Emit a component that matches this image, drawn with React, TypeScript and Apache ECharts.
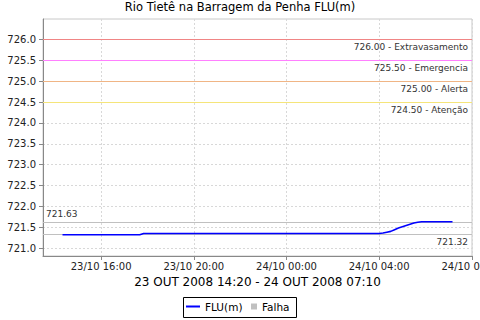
import React, { useEffect, useRef } from "react";
import * as echarts from "echarts";

const TITLE = "Rio Tietê na Barragem da Penha FLU(m)";
const X_NAME = "23 OUT 2008 14:20 - 24 OUT 2008 07:10";

const FLU_TIMES = [
  "2008-10-23T14:20:00Z",
  "2008-10-23T17:40:00Z",
  "2008-10-23T17:50:00Z",
  "2008-10-24T04:00:00Z",
  "2008-10-24T04:10:00Z",
  "2008-10-24T04:20:00Z",
  "2008-10-24T04:30:00Z",
  "2008-10-24T04:40:00Z",
  "2008-10-24T04:50:00Z",
  "2008-10-24T05:00:00Z",
  "2008-10-24T05:10:00Z",
  "2008-10-24T05:20:00Z",
  "2008-10-24T05:30:00Z",
  "2008-10-24T05:40:00Z",
  "2008-10-24T05:50:00Z",
  "2008-10-24T06:00:00Z",
  "2008-10-24T07:10:00Z",
];
const FLU_VALUES = [
  721.32, 721.32, 721.35, 721.35, 721.36, 721.38, 721.4, 721.44, 721.48,
  721.51, 721.54, 721.57, 721.6, 721.62, 721.63, 721.63, 721.63,
];

const THRESHOLD_VALUES = [726.0, 725.5, 725.0, 724.5];
const THRESHOLD_NAMES = ["Extravasamento", "Emergencia", "Alerta", "Atenção"];
const THRESHOLD_COLORS = ["#f08585", "#ff80ff", "#f0b585", "#f5e57a"];

const X_TICKS = [
  "2008-10-23T16:00:00Z",
  "2008-10-23T20:00:00Z",
  "2008-10-24T00:00:00Z",
  "2008-10-24T04:00:00Z",
  "2008-10-24T08:00:00Z",
];
const Y_TICKS = [721.0, 721.5, 722.0, 722.5, 723.0, 723.5, 724.0, 724.5, 725.0, 725.5, 726.0];

const X_MIN = "2008-10-23T13:29:30Z";
const X_MAX = "2008-10-24T08:00:30Z";
const Y_MIN = 720.81;
const Y_MAX = 726.49;

const FONT = "DejaVu Sans";

const pad = (n: number) => (n < 10 ? "0" + n : "" + n);
const fmtTime = (v: number) => {
  const d = new Date(v);
  return `${pad(d.getUTCDate())}/${pad(d.getUTCMonth() + 1)} ${pad(d.getUTCHours())}:${pad(d.getUTCMinutes())}`;
};

export default function App() {
  const ref = useRef<HTMLDivElement>(null);
  useEffect(() => {
    if (!ref.current) return;
    const chart = echarts.init(ref.current, undefined, { renderer: "svg" });
    const data = FLU_TIMES.map((t, i) => [Date.parse(t), FLU_VALUES[i]]);
    const minV = Math.min(...FLU_VALUES);
    const maxV = Math.max(...FLU_VALUES);

    const thresholdLines = THRESHOLD_VALUES.map((v, i) => ({
      yAxis: v,
      lineStyle: { color: THRESHOLD_COLORS[i], width: 1, type: "solid" },
      label: {
        show: true,
        position: "insideEndBottom",
        formatter: `${v.toFixed(2)} - ${THRESHOLD_NAMES[i]}`,
        color: "#333",
        fontSize: 9,
        fontFamily: FONT,
        distance: [4, 3],
      },
    }));

    const option: any = {
      animation: false,
      backgroundColor: "#fff",
      textStyle: { fontFamily: FONT },
      title: {
        text: TITLE,
        left: "center",
        top: 1,
        padding: 0,
        textStyle: { fontSize: 11.5, fontWeight: "normal", color: "#000", fontFamily: FONT },
      },
      grid: {
        left: 43,
        right: 8,
        top: 19,
        bottom: 64,
        outerBoundsMode: "none",
        containLabel: false,
        show: true,
        borderColor: "#c8c8c8",
        borderWidth: 1,
        backgroundColor: "#fff",
      },
      legend: [
        {
          data: [{ name: "FLU(m)", icon: "rect" }],
          left: 186,
          top: 301,
          padding: 0,
          itemWidth: 14,
          itemHeight: 2,
          textStyle: { fontSize: 10.5, color: "#000", fontFamily: FONT },
        },
        {
          data: [{ name: "Falha", icon: "rect" }],
          left: 251,
          top: 301,
          padding: 0,
          itemWidth: 6,
          itemHeight: 6,
          textStyle: { fontSize: 10.5, color: "#000", fontFamily: FONT },
        },
      ],
      graphic: [
        {
          type: "rect",
          shape: { x: 183.5, y: 297.5, width: 113, height: 20 },
          style: { fill: "none", stroke: "#000", lineWidth: 1 },
          z: 10,
        },
      ],
      xAxis: {
        type: "value",
        min: Date.parse(X_MIN),
        max: Date.parse(X_MAX),
        name: X_NAME,
        nameLocation: "middle",
        nameGap: 19,
        nameTextStyle: { fontSize: 12, color: "#000", fontFamily: FONT },
        axisLine: { show: true, lineStyle: { color: "#888", width: 1 } },
        axisTick: {
          show: true,
          length: 4,
          lineStyle: { color: "#888" },
          customValues: X_TICKS.map((t) => Date.parse(t)),
        },
        axisLabel: {
          customValues: X_TICKS.map((t) => Date.parse(t)),
          formatter: (v: number) => fmtTime(v),
          fontSize: 10,
          color: "#222",
          margin: 5,
          fontFamily: FONT,
          hideOverlap: false,
        },
        splitLine: { show: true, lineStyle: { color: "#d8d8d8", type: [2, 2], width: 1 } },
      },
      yAxis: {
        type: "value",
        min: Y_MIN,
        max: Y_MAX,
        axisLine: { show: true, lineStyle: { color: "#888", width: 1 } },
        axisTick: {
          show: true,
          length: 4,
          lineStyle: { color: "#888" },
          customValues: Y_TICKS,
        },
        axisLabel: {
          customValues: Y_TICKS,
          formatter: (v: number) => v.toFixed(1),
          fontSize: 10,
          color: "#222",
          margin: 7,
          fontFamily: FONT,
        },
        splitLine: { show: true, lineStyle: { color: "#d8d8d8", type: [2, 2], width: 1 } },
      },
      series: [
        {
          name: "FLU(m)",
          type: "line",
          data,
          symbol: "none",
          showSymbol: false,
          color: "#0000ff",
          lineStyle: { color: "#0000ff", width: 1.6 },
          z: 5,
          markLine: {
            silent: true,
            symbol: ["none", "none"],
            animation: false,
            data: [
              ...thresholdLines,
              {
                yAxis: maxV,
                lineStyle: { color: "#c0c0c0", width: 1, type: "solid" },
                label: {
                  show: true,
                  position: "insideStartTop",
                  formatter: maxV.toFixed(2),
                  color: "#333",
                  fontSize: 9,
                  fontFamily: FONT,
                  distance: [3, 3],
                },
              },
              {
                yAxis: minV,
                lineStyle: { color: "#c0c0c0", width: 1, type: "solid" },
                label: {
                  show: true,
                  position: "insideEndBottom",
                  formatter: minV.toFixed(2),
                  color: "#333",
                  fontSize: 9,
                  fontFamily: FONT,
                  distance: [4, 3],
                },
              },
            ],
          },
        },
        {
          name: "Falha",
          type: "line",
          data: [],
          color: "#c0c0c0",
          itemStyle: { color: "#c0c0c0" },
        },
      ],
    };
    chart.setOption(option);
    return () => chart.dispose();
  }, []);
  return (
    <div
      ref={ref}
      style={{ position: "fixed", left: 0, top: 0, width: 480, height: 320 }}
    />
  );
}
